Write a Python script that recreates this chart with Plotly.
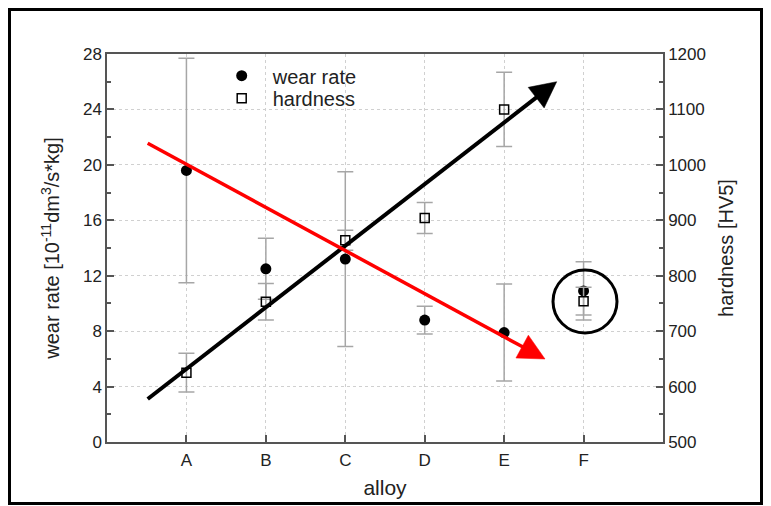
import plotly.graph_objects as go

alloys = ["A", "B", "C", "D", "E", "F"]
alloy_pos = [1, 2, 3, 4, 5, 6]
wear_rate = [19.6, 12.5, 13.2, 8.8, 7.9, 10.9]
wear_err = [8.1, 2.2, 6.3, 1.0, 3.5, 2.1]
hardness = [625, 753, 864, 904, 1100, 754]
hard_err = [35, 33, 18, 28, 67, 25]

# page offset (body margin) and figure geometry in page pixels
OFF = 8
W, H = 755, 497
PL, PR, PT, PB = 107, 663, 54, 442          # plot area in page px
L, R, T, B = PL - OFF, W - (PR - OFF), PT - OFF, H - (PB - OFF)
pw, ph = PR - PL, PB - PT
XR = [0, 7]
YR = [0, 28]


def px_x(p):   # page px -> paper x
    return (p - PL) / pw


def px_y(p):   # page px -> paper y
    return (PB - p) / ph


def dx(p):     # page px -> data x
    return XR[0] + (p - PL) / pw * (XR[1] - XR[0])


def dy(p):     # page px -> data y (left axis)
    return YR[0] + (PB - p) / ph * (YR[1] - YR[0])


FONT = "Arial, Liberation Sans, sans-serif"
TXT = "#222222"
ERRC = "#a6a6a6"
AX = "#555555"

fig = go.Figure()
fig.add_trace(go.Scatter(
    x=alloy_pos, y=wear_rate, mode="markers", name="wear rate",
    marker=dict(symbol="circle", size=11, color="black"),
    error_y=dict(type="data", array=wear_err, color=ERRC, thickness=1.5, width=8),
    yaxis="y", legend="legend",
))
fig.add_trace(go.Scatter(
    x=alloy_pos, y=hardness, mode="markers", name="hardness",
    marker=dict(symbol="square-open", size=9, color="black", line=dict(width=1.5)),
    error_y=dict(type="data", array=hard_err, color=ERRC, thickness=1.5, width=8),
    yaxis="y2", legend="legend2",
))

axis_common = dict(
    showline=True, linecolor=AX, linewidth=1.5,
    ticks="inside", tickcolor=AX, tickwidth=1.5, ticklen=7,
    gridcolor="#d0d0d0", griddash="dot", gridwidth=1,
    zeroline=False, automargin=False,
    tickfont=dict(family=FONT, size=17, color=TXT),
)

legend_common = dict(
    xanchor="left", yanchor="middle", bgcolor="rgba(0,0,0,0)",
    font=dict(family=FONT, size=20, color=TXT), itemwidth=52,
)

fig.update_layout(
    width=W, height=H,
    margin=dict(l=L, r=R, t=T, b=B, autoexpand=False),
    paper_bgcolor="white", plot_bgcolor="white",
    font=dict(family=FONT, size=17, color=TXT),
    xaxis=dict(
        **axis_common, showgrid=True, range=XR, tickvals=alloy_pos, ticktext=alloys,
        mirror=True, ticklabelstandoff=2,
        title=dict(text="alloy", font=dict(family=FONT, size=21, color=TXT), standoff=11),
    ),
    yaxis=dict(
        **axis_common, showgrid=True, range=YR, tick0=0, dtick=4,
        minor=dict(ticks="inside", dtick=2, ticklen=4, tickcolor=AX, showgrid=False),
        title=dict(text="wear rate [10<sup>-11</sup>dm<sup>3</sup>/s*kg]",
                   font=dict(family=FONT, size=20, color=TXT), standoff=18),
    ),
    yaxis2=dict(
        **axis_common, showgrid=False,
        overlaying="y", side="right", range=[500, 1200], tick0=500, dtick=100,
        minor=dict(ticks="inside", dtick=50, ticklen=4, tickcolor=AX, showgrid=False),
        title=dict(text="hardness [HV5]", font=dict(family=FONT, size=20, color=TXT), standoff=14),
    ),
    legend=dict(**legend_common, x=px_x(241.7 - 31), y=px_y(75.7)),
    legend2=dict(**legend_common, x=px_x(241.7 - 31), y=px_y(98.3)),
    showlegend=True,
)


def add_arrow(tail, tip, color, width, head_len=26, head_w=26):
    """tail/tip in page px; converted to data coordinates of x / y axes."""
    (x0, y0), (x1, y1) = tail, tip
    vx, vy = x1 - x0, y1 - y0
    n = (vx ** 2 + vy ** 2) ** 0.5
    ux, uy = vx / n, vy / n
    bx, by = x1 - ux * head_len, y1 - uy * head_len
    px, py = -uy, ux
    lx, ly = x1 - ux * (head_len - 2), y1 - uy * (head_len - 2)
    fig.add_shape(type="line", xref="x", yref="y",
                  x0=dx(x0), y0=dy(y0), x1=dx(lx), y1=dy(ly),
                  line=dict(color=color, width=width))
    c1 = (bx + px * head_w / 2, by + py * head_w / 2)
    c2 = (bx - px * head_w / 2, by - py * head_w / 2)
    path = "M {:.4f} {:.4f} L {:.4f} {:.4f} L {:.4f} {:.4f} Z".format(
        dx(x1), dy(y1), dx(c1[0]), dy(c1[1]), dx(c2[0]), dy(c2[1]))
    fig.add_shape(type="path", xref="x", yref="y", path=path,
                  fillcolor=color, line=dict(color=color, width=0.5))


# trend arrows
add_arrow((147.7, 399.0), (556.7, 81.7), "black", 4, head_len=26, head_w=26)
add_arrow((147.7, 143.3), (545.0, 359.0), "#ff0000", 3.5, head_len=26, head_w=26)

# circle highlighting alloy F
cx, cy, rx, ry = 585.0, 301.5, 32.0, 31.5
fig.add_shape(type="circle", xref="x", yref="y",
              x0=dx(cx - rx), x1=dx(cx + rx), y0=dy(cy + ry), y1=dy(cy - ry),
              line=dict(color="black", width=3))

# outer frame of the image
fig.add_shape(type="rect", xref="paper", yref="paper",
              x0=px_x(OFF + 1.5), x1=px_x(OFF + W - 1.5),
              y0=px_y(OFF + H - 1.5), y1=px_y(OFF + 1.5),
              line=dict(color="black", width=3), layer="above")

fig.write_html("out.html")
